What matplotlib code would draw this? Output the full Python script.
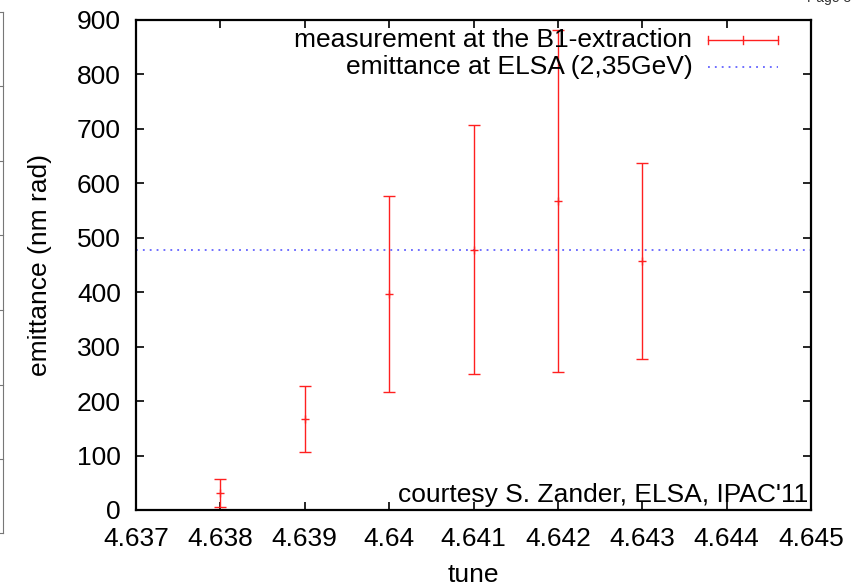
import matplotlib
matplotlib.use('Agg')
import matplotlib.pyplot as plt
from matplotlib.lines import Line2D

plt.rcParams['font.family'] = ['Liberation Sans', 'DejaVu Sans']

# measured emittance vs tune (B1-extraction)
tune = [4.638, 4.639, 4.640, 4.641, 4.642, 4.643]
emittance = [31, 167, 397, 478, 568, 457]
emit_err = [26, 61, 180, 229, 314, 180]
elsa_emittance = 478

x_ticks = [4.637, 4.638, 4.639, 4.640, 4.641, 4.642, 4.643, 4.644, 4.645]
x_labels = ['4.637', '4.638', '4.639', '4.64', '4.641', '4.642', '4.643', '4.644', '4.645']
y_ticks = [0, 100, 200, 300, 400, 500, 600, 700, 800, 900]

fig = plt.figure(figsize=(8.61, 5.87), dpi=100)
ax = fig.add_axes([0.158, 0.1312, 0.784, 0.8348])

red = '#ff2020'
blue = '#4848ff'
fs = 19

ax.errorbar(tune, emittance, yerr=emit_err, fmt='+', color=red, ecolor=red,
            elinewidth=1.0, capsize=4, capthick=1.0, markersize=6, markeredgewidth=1.0)
ax.axhline(elsa_emittance, color=blue, lw=1.1, linestyle=(0, (1.2, 3.3)))

ax.set_xlim(4.637, 4.645)
ax.set_ylim(0, 900)
ax.set_xticks(x_ticks)
ax.set_xticklabels(x_labels)
ax.set_yticks(y_ticks)
ax.tick_params(axis='both', direction='in', length=6, width=1.2, labelsize=fs,
               top=True, right=True)
ax.tick_params(axis='x', pad=12)
ax.tick_params(axis='y', pad=11)
for s in ax.spines.values():
    s.set_linewidth(1.6)

ax.set_xlabel('tune', fontsize=fs, labelpad=9)
ax.set_ylabel('emittance (nm rad)', fontsize=fs, labelpad=18)

# gnuplot-style key, text right-justified left of sample
tr = ax.transAxes
ax.text(0.824, 0.959, 'measurement at the B1-extraction', transform=tr,
        ha='right', va='center', fontsize=fs)
ax.text(0.824, 0.904, 'emittance at ELSA (2,35GeV)', transform=tr,
        ha='right', va='center', fontsize=fs)
ax.add_line(Line2D([0.847, 0.951], [0.959, 0.959], transform=tr, color=red, lw=1.0))
for xc in (0.847, 0.899, 0.951):
    ax.add_line(Line2D([xc, xc], [0.951, 0.967], transform=tr, color=red, lw=1.0))
ax.add_line(Line2D([0.847, 0.951], [0.904, 0.904], transform=tr, color=blue,
                   lw=1.1, linestyle=(0, (1.2, 3.3))))

ax.text(0.996, 0.006, "courtesy S. Zander, ELSA, IPAC'11", transform=tr,
        ha='right', va='bottom', fontsize=fs)

# leftover page frame from the source document
fig.add_artist(Line2D([3 / 861, 3 / 861], [1 - 12 / 587, 1 - 533 / 587],
                      color='#777777', lw=0.8))
for py in [12, 86, 161, 235, 310, 385, 459, 533]:
    fig.add_artist(Line2D([0, 3 / 861], [1 - py / 587, 1 - py / 587],
                          color='#777777', lw=0.8))
fig.text(0.937, 1 - 5 / 587, 'Page 3', fontsize=10, va='bottom', color='#333333')

fig.savefig('out.png', dpi=100)
